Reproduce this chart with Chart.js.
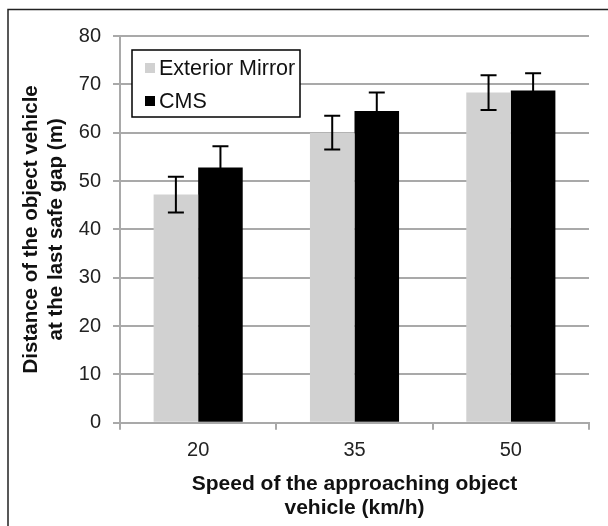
<!DOCTYPE html>
<html>
<head>
<meta charset="utf-8">
<script src="https://cdn.jsdelivr.net/npm/chart.js@4"></script>
<style>
  html, body { margin: 0; padding: 0; background: #fff; }
  #wrap { width: 608px; height: 526px; position: relative; }
</style>
</head>
<body>
<div id="wrap"><canvas id="chart" width="608" height="526"></canvas></div>
<script>
// ==================================================
// DATA
// ==================================================
const speeds = ["20", "35", "50"];
const seriesNames = ["Exterior Mirror", "CMS"];
const mirrorMeans = [47.2, 60.0, 68.3];
const mirrorErrors = [3.7, 3.5, 3.6];
const cmsMeans = [52.8, 64.5, 68.7];
const cmsErrors = [4.4, 3.8, 3.6];
const yTicks = { min: 0, max: 80, step: 10 };

const FONT = "'Liberation Sans', Arial, sans-serif";
const GRID = "#a9a9a9";

// ==================================================
// PLUGINS
// ==================================================
const errorBars = {
    id: "errorBars",
    afterDatasetsDraw(chart) {
        const ctx = chart.ctx;
        const y = chart.scales.y;
        ctx.save();
        ctx.strokeStyle = "#000";
        ctx.lineWidth = 2;
        chart.data.datasets.forEach((ds, di) => {
            const meta = chart.getDatasetMeta(di);
            meta.data.forEach((bar, i) => {
                const top = y.getPixelForValue(ds.data[i] + ds.errors[i]);
                const bot = y.getPixelForValue(ds.data[i] - ds.errors[i]);
                const cap = 8;
                ctx.beginPath();
                ctx.moveTo(bar.x, top); ctx.lineTo(bar.x, bot);
                ctx.moveTo(bar.x - cap, top); ctx.lineTo(bar.x + cap, top);
                ctx.moveTo(bar.x - cap, bot); ctx.lineTo(bar.x + cap, bot);
                ctx.stroke();
            });
        });
        ctx.restore();
    }
};

const boxLegend = {
    id: "boxLegend",
    afterDraw(chart) {
        const ctx = chart.ctx;
        const area = chart.chartArea;
        const x = area.left + 12, y = area.top + 14;
        ctx.save();
        ctx.fillStyle = "#fff";
        ctx.fillRect(x, y, 168, 67);
        ctx.strokeStyle = "#000";
        ctx.lineWidth = 1.5;
        ctx.strokeRect(x, y, 168, 67);
        ctx.font = "21.5px " + FONT;
        ctx.textBaseline = "middle";
        chart.data.datasets.forEach((ds, i) => {
            const cy = y + 18 + i * 33;
            ctx.fillStyle = ds.backgroundColor;
            ctx.fillRect(x + 13, cy - 5, 10, 10);
            ctx.fillStyle = "#111";
            ctx.fillText(ds.label, x + 27, cy + 1);
        });
        ctx.restore();
    }
};

const frame = {
    id: "frame",
    afterDraw(chart) {
        const ctx = chart.ctx;
        ctx.save();
        ctx.strokeStyle = "#222";
        ctx.lineWidth = 1.5;
        ctx.strokeRect(8, 9.5, 640, 560);
        ctx.restore();
    }
};

// ==================================================
// CHART
// ==================================================
new Chart(document.getElementById("chart"), {
    type: "bar",
    data: {
        labels: speeds,
        datasets: [
            { label: seriesNames[0], data: mirrorMeans, errors: mirrorErrors, backgroundColor: "#d1d1d1" },
            { label: seriesNames[1], data: cmsMeans, errors: cmsErrors, backgroundColor: "#000000" }
        ]
    },
    options: {
        responsive: false,
        animation: false,
        layout: { padding: { left: 0, right: 19, top: 36, bottom: 6 } },
        datasets: { bar: { categoryPercentage: 0.57, barPercentage: 1.0 } },
        plugins: {
            legend: { display: false },
            tooltip: { enabled: false }
        },
        scales: {
            x: {
                grid: { drawOnChartArea: false, drawTicks: true, tickLength: 7, color: GRID, lineWidth: 2 },
                border: { color: GRID, width: 2 },
                ticks: { color: "#222", font: { family: FONT, size: 20, lineHeight: 1.2 }, padding: 9 },
                title: {
                    display: true,
                    text: ["Speed of the approaching object", "vehicle (km/h)"],
                    color: "#111",
                    font: { family: FONT, size: 21, weight: "bold", lineHeight: 1.15 },
                    padding: { top: 0, bottom: 0 }
                }
            },
            y: {
                min: yTicks.min,
                max: yTicks.max,
                afterFit(scale) { scale.width = 120; },
                grid: { color: GRID, lineWidth: 2, tickLength: 7 },
                border: { color: GRID, width: 2 },
                ticks: { stepSize: yTicks.step, color: "#222", font: { family: FONT, size: 20 }, padding: 12 },
                title: {
                    display: true,
                    text: ["Distance of the object vehicle", "at the last safe gap (m)"],
                    color: "#111",
                    font: { family: FONT, size: 20.5, weight: "bold", lineHeight: 1.22 },
                    padding: { top: 19, bottom: 0 }
                }
            }
        }
    },
    plugins: [errorBars, boxLegend, frame]
});
</script>
</body>
</html>
